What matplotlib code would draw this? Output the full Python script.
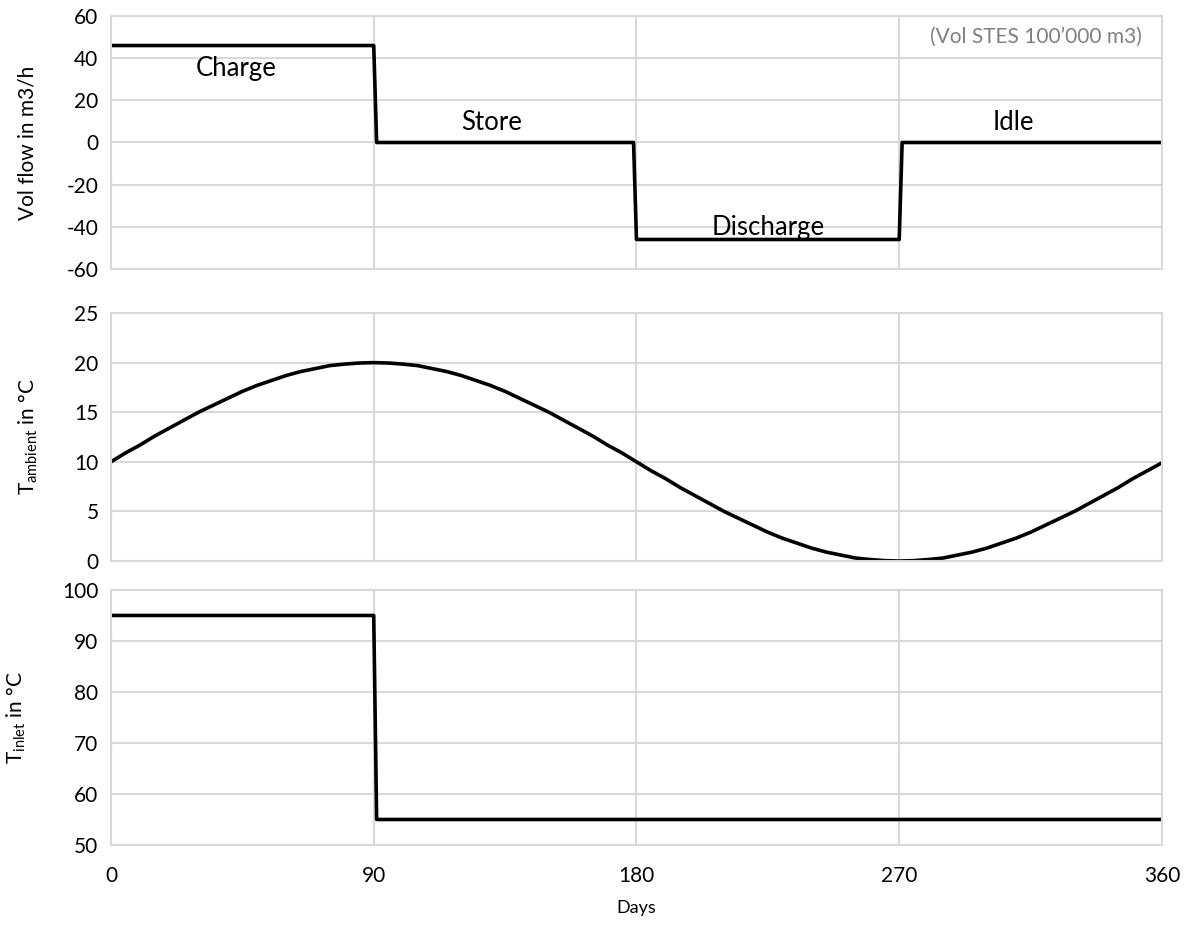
import matplotlib.pyplot as plt

plt.rcParams["font.family"] = ["Lato", "DejaVu Sans"]
plt.rcParams["mathtext.fontset"] = "custom"
plt.rcParams["mathtext.rm"] = "Lato"
plt.rcParams["mathtext.it"] = "Lato"
plt.rcParams["axes.unicode_minus"] = False

# Daten
tage_fluss = [0, 90, 91, 179, 180, 270, 271, 360]
vol_fluss = [46, 46, 0, 0, -46, -46, 0, 0]

tage_amb = list(range(0, 361, 5))
t_ambient = [10, 10.9, 11.7, 12.6, 13.4, 14.2, 15, 15.7, 16.4, 17.1, 17.7, 18.2,
             18.7, 19.1, 19.4, 19.7, 19.85, 19.96, 20, 19.96, 19.85, 19.7, 19.4,
             19.1, 18.7, 18.2, 17.7, 17.1, 16.4, 15.7, 15, 14.2, 13.4, 12.6, 11.7,
             10.9, 10, 9.1, 8.3, 7.4, 6.6, 5.8, 5, 4.3, 3.6, 2.9, 2.3, 1.8, 1.3,
             0.9, 0.6, 0.3, 0.15, 0.04, 0, 0.04, 0.15, 0.3, 0.6, 0.9, 1.3, 1.8,
             2.3, 2.9, 3.6, 4.3, 5, 5.8, 6.6, 7.4, 8.3, 9.1, 9.9]

tage_inlet = [0, 90, 91, 360]
t_inlet = [95, 95, 55, 55]

phasen = ["Charge", "Store", "Discharge", "Idle"]
phasen_x = [43, 130.5, 225, 309]
phasen_y = [35, 9.5, -40.5, 9.5]

x_ticks = [0, 90, 180, 270, 360]

fig = plt.figure(figsize=(12.01, 9.25), dpi=100)
links, breite = 0.0924, 0.8751
ax1 = fig.add_axes([links, 0.7092, breite, 0.2735])
ax2 = fig.add_axes([links, 0.3935, breite, 0.2681])
ax3 = fig.add_axes([links, 0.0865, breite, 0.2757])

gitter = "#d9d9d9"
for ax in (ax1, ax2, ax3):
    ax.set_xlim(0, 360)
    ax.set_xticks(x_ticks)
    ax.grid(True, color=gitter, linewidth=1.5)
    ax.set_axisbelow(True)
    for s in ax.spines.values():
        s.set_color(gitter)
        s.set_linewidth(1.5)
    ax.tick_params(length=0, labelsize=15, pad=9)
    ax.tick_params(axis="x", pad=15)

ax1.plot(tage_fluss, vol_fluss, color="black", linewidth=2.6)
ax1.set_ylim(-60, 60)
ax1.set_yticks(range(-60, 61, 20))
ax1.set_xticklabels([])
ax1.set_ylabel("Vol flow in m3/h", fontsize=15)
ax1.yaxis.set_label_coords(-0.0695, 0.5)
for txt, x, y in zip(phasen, phasen_x, phasen_y):
    ax1.text(x, y, txt, ha="center", va="center", fontsize=18.5)
ax1.text(353, 50, "(Vol STES 100\u2019000 m3)", ha="right", va="center",
         fontsize=15, color="#808080")

ax2.plot(tage_amb, t_ambient, color="black", linewidth=2.6)
ax2.set_ylim(0, 25)
ax2.set_yticks(range(0, 26, 5))
ax2.set_xticklabels([])
ax2.set_ylabel(r"T$_\mathrm{ambient}$ in °C", fontsize=15)
ax2.yaxis.set_label_coords(-0.0676, 0.5)

ax3.plot(tage_inlet, t_inlet, color="black", linewidth=2.6)
ax3.set_ylim(50, 100)
ax3.set_yticks(range(50, 101, 10))
ax3.set_ylabel(r"T$_\mathrm{inlet}$ in °C", fontsize=15)
ax3.yaxis.set_label_coords(-0.079, 0.5)
ax3.set_xlabel("Days", fontsize=13, labelpad=10)

fig.savefig("out.png", dpi=100)
